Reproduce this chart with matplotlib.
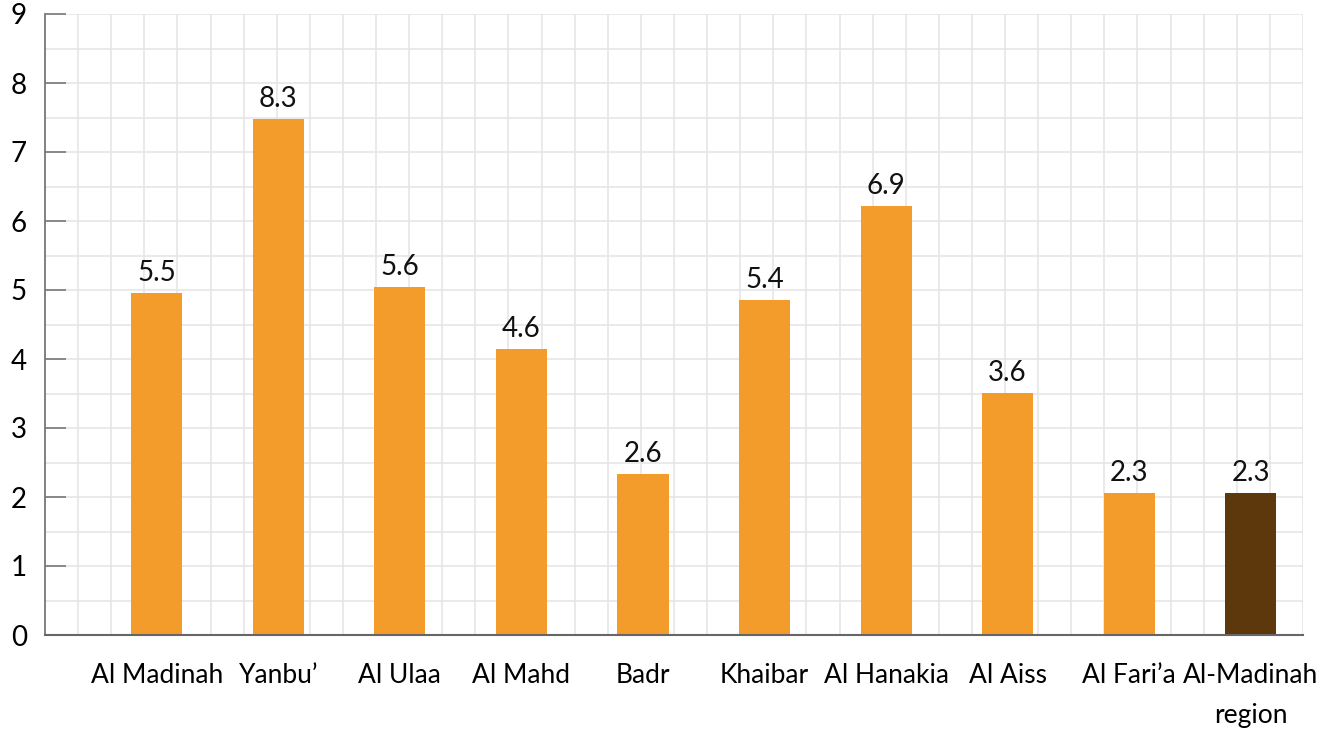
import numpy as np
import matplotlib.pyplot as plt

plt.rcParams['font.family'] = ['Lato', 'DejaVu Sans']

categories = ["Al Madinah", "Yanbu\u2019", "Al Ulaa", "Al Mahd", "Badr", "Khaibar",
              "Al Hanakia", "Al Aiss", "Al Fari\u2019a", "Al-Madinah\nregion"]
# bar heights as drawn in the picture, and the labels printed above them
heights = [4.96, 7.48, 5.04, 4.14, 2.33, 4.86, 6.22, 3.51, 2.06, 2.06]
labels = ["5.5", "8.3", "5.6", "4.6", "2.6", "5.4", "6.9", "3.6", "2.3", "2.3"]
y_ticks = list(range(0, 10))

orange = "#F39C2C"
brown = "#5C380C"
colors = [orange] * 9 + [brown]

fig = plt.figure(figsize=(13.38, 7.29), dpi=100)
ax = fig.add_axes([45 / 1338, 1 - 635 / 729, 1258 / 1338, 621 / 729])

x = np.arange(len(categories))
xlim = (-0.92, len(categories) - 1 + 0.43)
ax.set_xlim(*xlim)
ax.set_ylim(0, 9)

# background grid
for gx in np.linspace(xlim[0], xlim[1], 39)[1:]:
    ax.axvline(gx, color="#e6e6e6", lw=1.2, zorder=0)
for gy in np.arange(0.5, 9.01, 0.5):
    ax.axhline(gy, color="#e6e6e6", lw=1.2, zorder=0)

bars = ax.bar(x, heights, width=0.42, color=colors, zorder=2)
for b, lab in zip(bars, labels):
    ax.text(b.get_x() + b.get_width() / 2, b.get_height() + 0.1, lab,
            ha="center", va="bottom", fontsize=20, color="#111111")

ax.set_xticks(x)
ax.set_xticklabels(categories, fontsize=19, linespacing=1.75, va="top")
ax.tick_params(axis="x", length=0, pad=20)
ax.set_yticks(y_ticks)
ax.set_yticklabels([str(v) for v in y_ticks], fontsize=20)
ax.tick_params(axis="y", direction="in", length=15, width=1.2, color="#777777", pad=13)

for s in ["top", "right"]:
    ax.spines[s].set_visible(False)
ax.spines["left"].set_color("#777777")
ax.spines["left"].set_linewidth(1.3)
ax.spines["bottom"].set_color("#666666")
ax.spines["bottom"].set_linewidth(1.5)

fig.savefig("out.png", dpi=100)
